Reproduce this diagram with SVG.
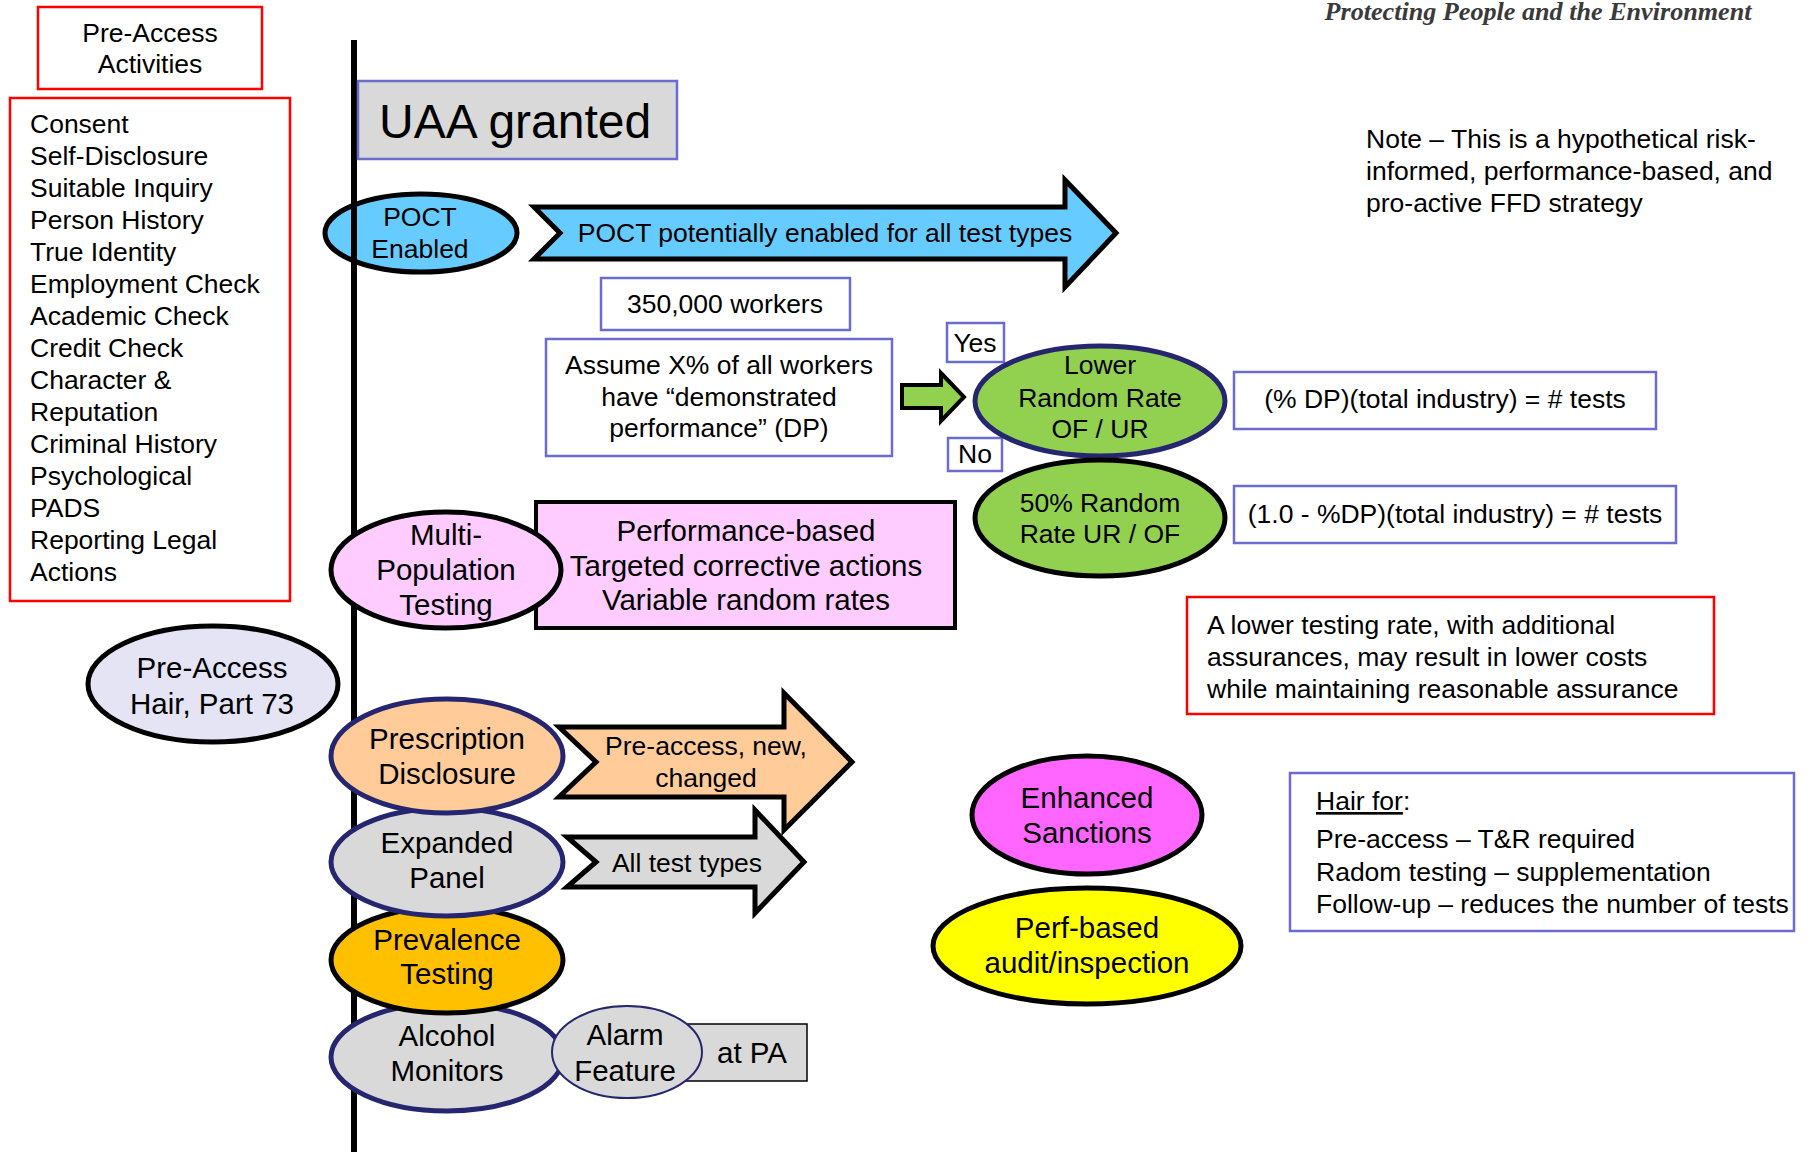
<svg xmlns="http://www.w3.org/2000/svg" width="1810" height="1152" viewBox="0 0 1810 1152">
<style>
text{font-family:"Liberation Sans",Arial,sans-serif;fill:#000;}
.t26{font-size:26.5px;}
.t28{font-size:29.5px;}
.c{text-anchor:middle;}
.red{fill:#fff;stroke:#ff0000;stroke-width:2.5;}
.blu{fill:#fff;stroke:#6b6bd0;stroke-width:2.5;}
.blk{stroke:#000;stroke-width:5;}
.nav{stroke:#262670;stroke-width:5;}
</style>
<rect width="1810" height="1152" fill="#fff"/>

<text x="1538" y="20" text-anchor="middle" style="font-family:'Liberation Serif',serif;font-weight:bold;font-style:italic;font-size:26px;fill:#3a3a3a" textLength="427" lengthAdjust="spacingAndGlyphs">Protecting People and the Environment</text>

<g id="pre-access-activities">
<rect class="red" x="38" y="7" width="224" height="82"/>
<text class="t26 c" x="150" y="42">Pre-Access</text>
<text class="t26 c" x="150" y="73">Activities</text>
</g>

<g id="activities-list">
<rect class="red" x="10" y="98" width="280" height="503"/>
<text class="t26" x="30">
<tspan x="30" y="133">Consent</tspan>
<tspan x="30" y="165">Self-Disclosure</tspan>
<tspan x="30" y="197">Suitable Inquiry</tspan>
<tspan x="30" y="229">Person History</tspan>
<tspan x="30" y="261">True Identity</tspan>
<tspan x="30" y="293">Employment Check</tspan>
<tspan x="30" y="325">Academic Check</tspan>
<tspan x="30" y="357">Credit Check</tspan>
<tspan x="30" y="389">Character &amp;</tspan>
<tspan x="30" y="421">Reputation</tspan>
<tspan x="30" y="453">Criminal History</tspan>
<tspan x="30" y="485">Psychological</tspan>
<tspan x="30" y="517">PADS</tspan>
<tspan x="30" y="549">Reporting Legal</tspan>
<tspan x="30" y="581">Actions</tspan>
</text>
</g>

<g id="poct-enabled">
<ellipse cx="421" cy="233" rx="96" ry="39" fill="#66ccff" class="blk"/>
<text class="t26 c" x="420" y="226">POCT</text>
<text class="t26 c" x="420" y="258">Enabled</text>
</g>

<g id="timeline">
<rect x="351" y="40" width="6" height="1112" fill="#000"/>
</g>

<g id="uaa-granted">
<rect x="358" y="81" width="319" height="78" fill="#d9d9d9" stroke="#6b6bd0" stroke-width="2.5"/>
<text x="379" y="138" style="font-size:48px">UAA granted</text>
</g>

<g id="poct-arrow">
<polygon points="534,207 1065,207 1065,180 1116,233 1065,287 1065,259 534,259 560,233" fill="#66ccff" class="blk" stroke-linejoin="miter"/>
<text class="t26 c" x="825" y="242">POCT potentially enabled for all test types</text>
</g>

<g id="workers">
<rect class="blu" x="601" y="278" width="249" height="52"/>
<text class="t26 c" x="725" y="313">350,000 workers</text>
</g>

<g id="assume">
<rect class="blu" x="546" y="339" width="346" height="117"/>
<text class="t26 c" x="719" y="374">Assume X% of all workers</text>
<text class="t26 c" x="719" y="406">have “demonstrated</text>
<text class="t26 c" x="719" y="437">performance” (DP)</text>
</g>

<g id="connectors">
<polygon points="902,385 941,385 941,373 964,397 941,421 941,408 902,408" fill="#92d050" stroke="#000" stroke-width="4"/>
</g>

<g id="yes-label">
<rect class="blu" x="947" y="323" width="57" height="39"/>
<text class="t26 c" x="975" y="352">Yes</text>
</g>
<g id="no-label">
<rect class="blu" x="948" y="438" width="54" height="33"/>
<text class="t26 c" x="975" y="463">No</text>
</g>

<g id="lower-random-rate">
<ellipse cx="1100" cy="401" rx="125" ry="55" fill="#92d050" class="nav"/>
<text class="t26 c" x="1100" y="374">Lower</text>
<text class="t26 c" x="1100" y="407">Random Rate</text>
<text class="t26 c" x="1100" y="438">OF / UR</text>
</g>

<g id="fifty-random-rate">
<ellipse cx="1100" cy="518" rx="125" ry="58" fill="#92d050" class="blk"/>
<text class="t26 c" x="1100" y="512">50% Random</text>
<text class="t26 c" x="1100" y="543">Rate UR / OF</text>
</g>

<g id="formula-dp">
<rect class="blu" x="1234" y="372" width="422" height="57"/>
<text class="t26 c" x="1445" y="408">(% DP)(total industry) = # tests</text>
</g>
<g id="formula-nondp">
<rect class="blu" x="1234" y="486" width="442" height="57"/>
<text class="t26 c" x="1455" y="523">(1.0 - %DP)(total industry) = # tests</text>
</g>

<g id="performance-box">
<rect x="536" y="502" width="419" height="126" fill="#ffccff" stroke="#000" stroke-width="4"/>
<text class="t28 c" x="746" y="541">Performance-based</text>
<text class="t28 c" x="746" y="576">Targeted corrective actions</text>
<text class="t28 c" x="746" y="610">Variable random rates</text>
</g>

<g id="multi-population">
<ellipse cx="446" cy="570" rx="115" ry="58" fill="#ffccff" class="blk"/>
<text class="t28 c" x="446" y="545">Multi-</text>
<text class="t28 c" x="446" y="580">Population</text>
<text class="t28 c" x="446" y="615">Testing</text>
</g>

<g id="lower-rate-note">
<rect class="red" x="1187" y="597" width="527" height="117"/>
<text class="t26" x="1207" y="634">A lower testing rate, with additional</text>
<text class="t26" x="1207" y="666">assurances, may result in lower costs</text>
<text class="t26" x="1207" y="698">while maintaining reasonable assurance</text>
</g>

<g id="note">
<text class="t26" x="1366" y="148">Note – This is a hypothetical risk-</text>
<text class="t26" x="1366" y="180">informed, performance-based, and</text>
<text class="t26" x="1366" y="212">pro-active FFD strategy</text>
</g>

<g id="pre-access-hair">
<ellipse cx="213" cy="684" rx="125" ry="58" fill="#e4e4f4" class="blk"/>
<text class="t28 c" x="212" y="678">Pre-Access</text>
<text class="t28 c" x="212" y="714">Hair, Part 73</text>
</g>

<g id="alcohol-monitors">
<ellipse cx="447" cy="1057" rx="116" ry="54" fill="#d9d9d9" class="nav"/>
<text class="t28 c" x="447" y="1046">Alcohol</text>
<text class="t28 c" x="447" y="1081">Monitors</text>
</g>

<g id="prevalence-testing">
<ellipse cx="447" cy="960" rx="116" ry="53" fill="#ffc000" class="blk"/>
<text class="t28 c" x="447" y="950">Prevalence</text>
<text class="t28 c" x="447" y="984">Testing</text>
</g>

<g id="expanded-panel">
<ellipse cx="447" cy="862" rx="116" ry="54" fill="#d9d9d9" class="nav"/>
<text class="t28 c" x="447" y="853">Expanded</text>
<text class="t28 c" x="447" y="888">Panel</text>
</g>

<g id="prescription-disclosure">
<ellipse cx="447" cy="756" rx="116" ry="57" fill="#ffcc99" class="nav"/>
<text class="t28 c" x="447" y="749">Prescription</text>
<text class="t28 c" x="447" y="784">Disclosure</text>
</g>

<g id="pre-access-arrow">
<polygon points="559,727 784,727 784,693 852,762 784,830 784,797 559,797 596,762" fill="#ffcc99" class="blk"/>
<text class="t26 c" x="706" y="755">Pre-access, new,</text>
<text class="t26 c" x="706" y="787">changed</text>
</g>

<g id="all-test-types-arrow">
<polygon points="567,837 755,837 755,810 804,862 755,913 755,887 567,887 596,862" fill="#d9d9d9" class="blk"/>
<text class="t26 c" x="687" y="872">All test types</text>
</g>

<g id="at-pa">
<rect x="680" y="1024" width="127" height="57" fill="#d9d9d9" stroke="#000" stroke-width="1.5"/>
<text class="t28 c" x="752" y="1063">at PA</text>
</g>

<g id="alarm-feature">
<ellipse cx="627" cy="1052" rx="75" ry="46" fill="#d9d9d9" stroke="#262670" stroke-width="2"/>
<text class="t28 c" x="625" y="1045">Alarm</text>
<text class="t28 c" x="625" y="1081">Feature</text>
</g>

<g id="enhanced-sanctions">
<ellipse cx="1087" cy="815" rx="115" ry="59" fill="#ff66ff" class="blk"/>
<text class="t28 c" x="1087" y="808">Enhanced</text>
<text class="t28 c" x="1087" y="843">Sanctions</text>
</g>

<g id="perf-based-audit">
<ellipse cx="1087" cy="946" rx="154" ry="58" fill="#ffff00" class="blk"/>
<text class="t28 c" x="1087" y="938">Perf-based</text>
<text class="t28 c" x="1087" y="973">audit/inspection</text>
</g>

<g id="hair-for">
<rect class="blu" x="1290" y="773" width="504" height="158"/>
<text class="t26" x="1316" y="810"><tspan text-decoration="underline">Hair for</tspan>:</text>
<text class="t26" x="1316" y="848">Pre-access – T&amp;R required</text>
<text class="t26" x="1316" y="881">Radom testing – supplementation</text>
<text class="t26" x="1316" y="913">Follow-up – reduces the number of tests</text>
</g>
</svg>
